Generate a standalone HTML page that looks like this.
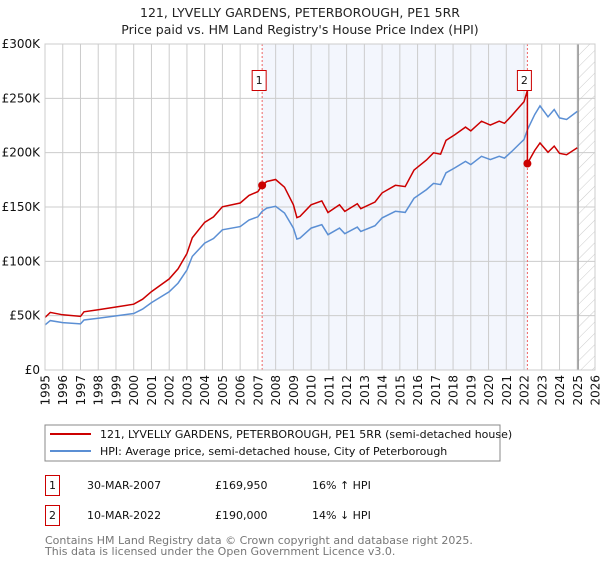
<!DOCTYPE html>
<html><head><meta charset="utf-8"><style>
body{margin:0;background:#fff;font-family:"DejaVu Sans","Liberation Sans",sans-serif;}
svg text{font-family:"DejaVu Sans","Liberation Sans",sans-serif;}
</style></head><body>
<svg id="c" width="600" height="560" xmlns="http://www.w3.org/2000/svg">
<defs><pattern id="hatch" width="8" height="8" patternUnits="userSpaceOnUse" patternTransform="rotate(45)"><line x1="0" y1="0" x2="0" y2="8" stroke="#ccc" stroke-width="1"/></pattern></defs>
<text x="300" y="17" text-anchor="middle" font-size="12.5" fill="#222">121, LYVELLY GARDENS, PETERBOROUGH, PE1 5RR</text>
<text x="300" y="34" text-anchor="middle" font-size="12.5" fill="#222">Price paid vs. HM Land Registry's House Price Index (HPI)</text>
<g id="plot"></g>
<rect x="45" y="425" width="455" height="36" fill="#fff" stroke="#888"/>
<line x1="50" y1="434" x2="91" y2="434" stroke="#cc0000" stroke-width="2"/>
<text x="100" y="438" font-size="11" fill="#111">121, LYVELLY GARDENS, PETERBOROUGH, PE1 5RR (semi-detached house)</text>
<line x1="50" y1="451" x2="91" y2="451" stroke="#5b8fd4" stroke-width="2"/>
<text x="100" y="455" font-size="11" fill="#111">HPI: Average price, semi-detached house, City of Peterborough</text>
<g>
<rect x="45.5" y="475.5" width="14" height="20" fill="none" stroke="#cc0000"/>
<text x="52.5" y="489" text-anchor="middle" font-size="11" fill="#111">1</text>
<text x="87" y="489" font-size="11" fill="#111">30-MAR-2007</text>
<text x="215" y="489" font-size="11" fill="#111">£169,950</text>
<text x="312" y="489" font-size="11" fill="#111">16% ↑ HPI</text></g>
<g>
<rect x="45.5" y="505.5" width="14" height="20" fill="none" stroke="#cc0000"/>
<text x="52.5" y="519" text-anchor="middle" font-size="11" fill="#111">2</text>
<text x="87" y="519" font-size="11" fill="#111">10-MAR-2022</text>
<text x="215" y="519" font-size="11" fill="#111">£190,000</text>
<text x="312" y="519" font-size="11" fill="#111">14% ↓ HPI</text></g>
<text x="45" y="544" font-size="11" fill="#777">Contains HM Land Registry data © Crown copyright and database right 2025.</text>
<text x="45" y="555" font-size="11" fill="#777">This data is licensed under the Open Government Licence v3.0.</text>
</svg>
<script>
const hpiYears=[1995.0,1995.3,1996,1997,1997.2,1998,1999,2000,2000.5,2001,2002,2002.5,2003,2003.3,2004,2004.5,2005,2006,2006.5,2007,2007.24,2007.5,2008,2008.5,2009,2009.2,2009.37,2010,2010.6,2010.95,2011.6,2011.9,2012.6,2012.8,2013.6,2014,2014.75,2015.3,2015.8,2016.5,2016.9,2017.3,2017.6,2018.1,2018.7,2019.0,2019.6,2020.1,2020.6,2020.9,2021.3,2021.8,2022.0,2022.19,2022.6,2022.9,2023.35,2023.7,2024.0,2024.4,2025.0];
const hpiValues=[41.5,45.5,43.6,42.4,46,47.6,49.8,52,56,62,72,80,92,104.5,116.8,121,129,132,138,141,146,149,150.6,144.5,130.6,120.5,121.4,130.6,133.7,124.5,130.6,125.4,131.5,127.5,132.8,140,146,145,158,166,171.7,170.6,181.5,186,192,189,196.7,193.6,196.7,195,201,209,212,221,235,243,233,239.7,232,230.5,238];
const saleYears=[2007.24,2022.19];
const salePrices=[169.95,190];
const yTicks=[0,50,100,150,200,250,300];
const yTickLabels=["£0","£50K","£100K","£150K","£200K","£250K","£300K"];
const xTicks=[1995,1996,1997,1998,1999,2000,2001,2002,2003,2004,2005,2006,2007,2008,2009,2010,2011,2012,2013,2014,2015,2016,2017,2018,2019,2020,2021,2022,2023,2024,2025,2026];
const X0=45,X1=595,Y0=370,Y1=44,xmin=1995,xmax=2026,ymax=300;
const xs=y=>X0+(y-xmin)/(xmax-xmin)*(X1-X0);
const ys=v=>Y0-v/ymax*(Y0-Y1);
const NS="http://www.w3.org/2000/svg";const g=document.getElementById('plot');
function mk(t,a){const e=document.createElementNS(NS,t);for(const k in a)e.setAttribute(k,a[k]);g.appendChild(e);return e;}
const bg=mk('rect',{x:X0,y:Y1,width:X1-X0,height:Y0-Y1,fill:'#fff'});


const sh=mk('rect',{x:xs(saleYears[0]),y:Y1,width:xs(saleYears[1])-xs(saleYears[0]),height:Y0-Y1,fill:'#f3f6fd'});


const hx=xs(2025.05);
const ht=mk('rect',{x:hx,y:Y1,width:X1-hx,height:Y0-Y1,fill:'url(#hatch)'});


xTicks.forEach(t=>{const l=mk('line',{x1:xs(t),x2:xs(t),y1:Y1,y2:Y0,stroke:'#ccc','stroke-width':1});


const px=xs(t)+4.5,py=375;
const tx=mk('text',{x:px,y:py,'text-anchor':'end','font-size':12,fill:'#111',transform:'rotate(-90 '+px+' '+py+')'});tx.textContent=t;

});
yTicks.forEach((t,i)=>{const l=mk('line',{x1:X0,x2:X1,y1:ys(t),y2:ys(t),stroke:'#ccc','stroke-width':1});


const tx=mk('text',{x:40,y:ys(t)+4,'text-anchor':'end','font-size':12,fill:'#111'});tx.textContent=yTickLabels[i];

});
const fl=mk('line',{x1:hx,x2:hx,y1:Y1,y2:Y0,stroke:'#999','stroke-width':1.5});


saleYears.forEach((s,i)=>{const l=mk('line',{x1:xs(s),x2:xs(s),y1:Y1,y2:Y0,stroke:'#e66','stroke-width':1,'stroke-dasharray':'2,2'});

});
function interp(yr){for(let i=0;i<hpiYears.length-1;i++){if(yr<=hpiYears[i+1]){const f=(yr-hpiYears[i])/(hpiYears[i+1]-hpiYears[i]);return hpiValues[i]+f*(hpiValues[i+1]-hpiValues[i]);}}return hpiValues[hpiValues.length-1];}
const r1=salePrices[0]/interp(saleYears[0]),r2=salePrices[1]/interp(saleYears[1]);
let bp='',rp='';
hpiYears.forEach((yr,i)=>{bp+=(i?'L':'M')+xs(yr).toFixed(1)+','+ys(hpiValues[i]).toFixed(1);
const r=yr<saleYears[1]?r1:r2;
if(yr===saleYears[1]){rp+='L'+xs(yr).toFixed(1)+','+ys(hpiValues[i]*r1).toFixed(1);}
rp+=(i?'L':'M')+xs(yr).toFixed(1)+','+ys(hpiValues[i]*r).toFixed(1);});
const bl=mk('path',{d:bp,fill:'none',stroke:'#5b8fd4','stroke-width':1.5});


const rl=mk('path',{d:rp,fill:'none',stroke:'#cc0000','stroke-width':1.5});


saleYears.forEach((s,i)=>{const c=mk('circle',{cx:xs(s),cy:ys(salePrices[i]),r:4,fill:'#cc0000'});


const bx=xs(s)-10;const b=mk('rect',{x:bx,y:70.5,width:14,height:20,fill:'#fff',stroke:'#cc0000'});


const t=mk('text',{x:bx+7,y:84,'text-anchor':'middle','font-size':11,fill:'#111'});t.textContent=String(i+1);

});
const fr=mk('rect',{x:X0,y:Y1,width:X1-X0,height:Y0-Y1,fill:'none',stroke:'#ccc'});


</script>
</body></html>
